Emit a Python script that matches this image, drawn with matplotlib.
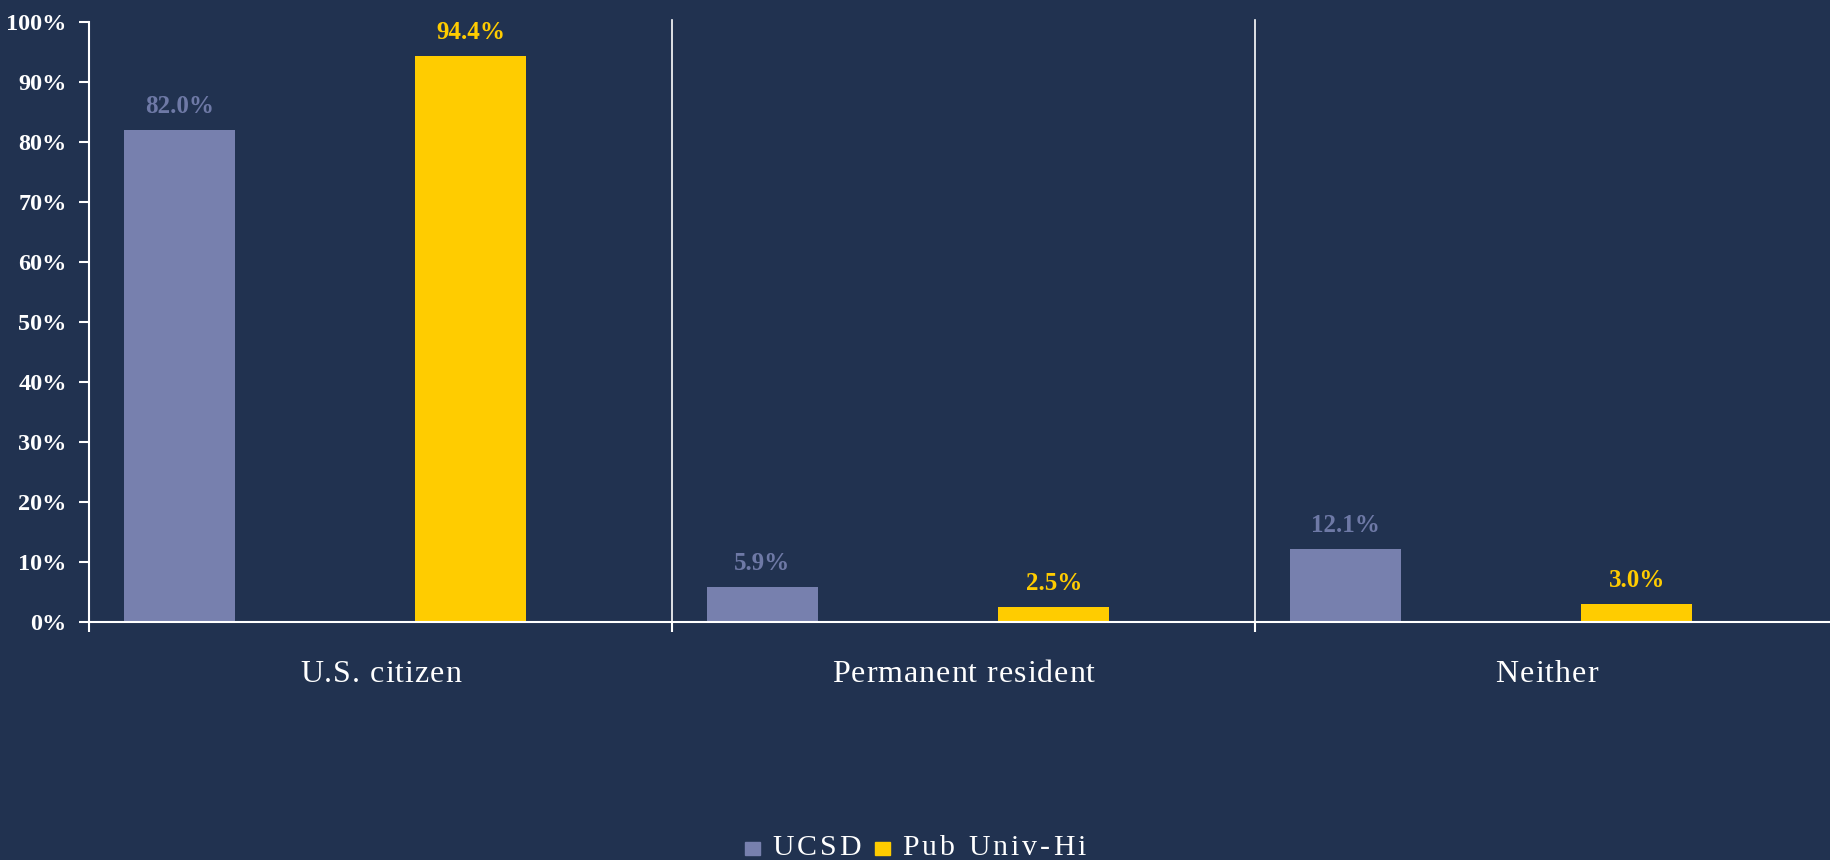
import matplotlib.pyplot as plt
import matplotlib.transforms as mtransforms
import numpy as np
from matplotlib.font_manager import FontProperties
from matplotlib.patches import Rectangle

# data
categories = ["U.S. citizen", "Permanent resident", "Neither"]
ucsd = [82.0, 5.9, 12.1]
pub_univ = [94.4, 2.5, 3.0]
series_names = ["UCSD", "Pub Univ-Hi"]
yticks = [0, 10, 20, 30, 40, 50, 60, 70, 80, 90, 100]

bg = "#213250"
c_ucsd = "#7780AE"
c_ucsd_lbl = "#6E79A6"
c_pub = "#FFCC00"
font = ["Liberation Serif", "DejaVu Serif"]

plt.rcParams['font.family'] = font

W, H = 1831, 860
fig = plt.figure(figsize=(W / 100, H / 100), dpi=100, facecolor=bg)
ax = fig.add_axes([89 / W, 1 - 622 / H, 1 - 89 / W, 600 / H])
ax.set_facecolor(bg)
renderer = fig.canvas.get_renderer()


def text_w(s, prop):
    # advance width in pixels (with a guard glyph so spaces count)
    return (renderer.get_text_width_height_descent(s + "|", prop, ismath=False)[0]
            - renderer.get_text_width_height_descent("|", prop, ismath=False)[0])


def spaced_text(x, y, s, trans, prop, track, color, ha="center"):
    total = text_w(s, prop) + track * (len(s) - 1)
    start = {"center": -total / 2, "left": 0}[ha]
    for i, ch in enumerate(s):
        dx = start + text_w(s[:i], prop) + i * track
        t = mtransforms.offset_copy(trans, fig, x=dx, y=0, units="dots")
        fig.text(x, y, ch, transform=t, fontproperties=prop, color=color,
                 ha="left", va="baseline")
    return total


x = np.arange(len(categories))
w = 0.19
b1 = ax.bar(x + 0.155, ucsd, w, color=c_ucsd)
b2 = ax.bar(x + 0.655, pub_univ, w, color=c_pub)

for bars, vals, col in [(b1, ucsd, c_ucsd_lbl), (b2, pub_univ, c_pub)]:
    for rect, v in zip(bars, vals):
        ax.annotate(f"{v:.1f}%", (rect.get_x() + rect.get_width() / 2, v),
                    xytext=(0, 17), textcoords="offset pixels", ha="center",
                    va="baseline", color=col, fontsize=18, fontweight="bold")

ax.set_xlim(0, (W - 89) / 583)
ax.set_ylim(0, 100)
ax.set_yticks(yticks)
ax.set_yticklabels([f"{t}%" for t in yticks], color="white", fontsize=17.5,
                   fontweight="bold")
ax.set_xticks([0, 1, 2])
ax.set_xticklabels([])
ax.tick_params(axis="both", colors="white", width=1.5, length=7, direction="out")
ax.tick_params(axis="y", pad=9)

for i in [1, 2]:
    ax.plot([i, i], [-1.4, 100.4], color="white", lw=1.2, clip_on=False)

# category labels, baseline at y=682 px
cat_prop = FontProperties(family=font, size=23)
lbl_trans = mtransforms.blended_transform_factory(ax.transData, fig.transFigure)
for i, c in enumerate(categories):
    spaced_text(i + 0.5, 1 - 682 / H, c, lbl_trans, cat_prop, 1.0, "white")

for s in ["top", "right"]:
    ax.spines[s].set_visible(False)
for s in ["left", "bottom"]:
    ax.spines[s].set_color("white")
    ax.spines[s].set_linewidth(1.5)

# legend, drawn by hand for letter spacing
leg_prop = FontProperties(family=font, size=21.5)
sq, gap1, gap2, track = 15, 12, 14, 3.0
widths = [text_w(n, leg_prop) + track * (len(n) - 1) for n in series_names]
total = sq + gap1 + widths[0] + gap2 + sq + gap1 + widths[1]
px = W / 2 - total / 2
base = 855
for name, col, tw in zip(series_names, [c_ucsd, c_pub], widths):
    fig.patches.append(Rectangle((px / W, 1 - base / H), sq / W, 13 / H,
                                 transform=fig.transFigure, color=col))
    px += sq + gap1
    spaced_text(px / W, 1 - base / H, name, fig.transFigure, leg_prop, track,
                "white", ha="left")
    px += tw + gap2

fig.savefig("out.png", dpi=100, facecolor=bg)
